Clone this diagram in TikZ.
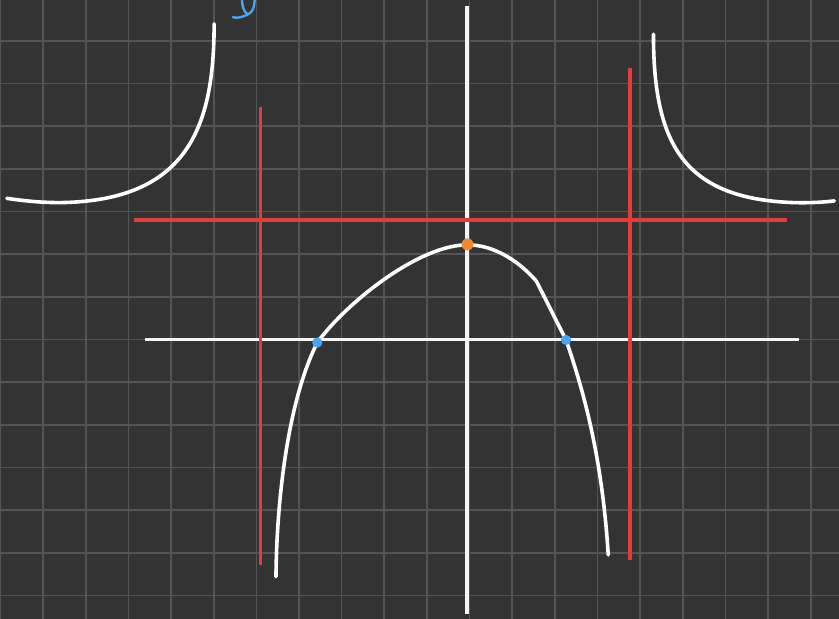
\documentclass[tikz,border=0pt]{standalone}
\definecolor{board}{RGB}{51,51,51}
\definecolor{gridline}{RGB}{84,84,88}
\definecolor{asymred}{RGB}{226,62,56}
\definecolor{rootblue}{RGB}{72,165,245}
\definecolor{peakorange}{RGB}{245,136,44}
\begin{document}
\begin{tikzpicture}[x=1cm,y=1cm,
    curve/.style={white, line width=2.4pt, line cap=round, line join=round},
    axisline/.style={white!96!black, line width=2.4pt},
    asym/.style={asymred, line width=2.2pt}]
  \useasboundingbox (-11.01,-6.55) rectangle (8.66,7.96);
  \fill[board] (-11.01,-6.55) rectangle (8.66,7.96);
  \clip (-11.01,-6.55) rectangle (8.66,7.96);
  \draw[gridline, line width=1.1pt] (-12,-7) grid (9,9);
  % axes
  \draw[axisline] (-7.61,0) -- (7.72,0);
  \draw[axisline] (-0.06,-6.44) -- (-0.06,7.82);
  % asymptotes
  \draw[asym] (-7.87,2.80) -- (7.44,2.80);
  \draw[asym] (-4.91,-5.29) -- (-4.91,5.45);
  \draw[asym] (3.76,-5.17) -- (3.76,6.37);
  % branches
  \draw[curve] (-5.99,7.40) .. controls (-5.99,5.0) and (-6.6,3.25) .. (-9.6,3.21)
    .. controls (-10.1,3.21) and (-10.5,3.26) .. (-10.85,3.31);
  \draw[curve] (4.31,7.16) .. controls (4.31,4.6) and (5.0,3.3) .. (7.6,3.21)
    .. controls (8.0,3.2) and (8.3,3.22) .. (8.55,3.25);
  \draw[curve] (-4.54,-5.56) .. controls (-4.52,-3.5) and (-4.2,-1.3) .. (-3.57,-0.07)
    .. controls (-2.9,0.85) and (-1.2,2.22) .. (-0.05,2.22)
    .. controls (0.6,2.22) and (1.2,1.8) .. (1.57,1.36)
    -- (2.26,-0.01) .. controls (2.6,-1.0) and (3.1,-2.6) .. (3.25,-5.05);
  % points
  \fill[peakorange] (-0.05,2.23) circle (0.14);
  \fill[rootblue] (-3.57,-0.07) circle (0.12);
  \fill[rootblue] (2.26,-0.01) circle (0.12);
  % scribble
  \draw[rootblue, line width=1.6pt, line cap=round] (-5.34,8.0) .. controls (-5.33,7.78) and (-5.28,7.66) .. (-5.20,7.63);
  \draw[rootblue, line width=1.6pt, line cap=round] (-5.04,8.0) .. controls (-5.04,7.76) and (-5.10,7.66) .. (-5.22,7.61) .. controls (-5.34,7.56) and (-5.46,7.52) .. (-5.55,7.56);
\end{tikzpicture}
\end{document}
